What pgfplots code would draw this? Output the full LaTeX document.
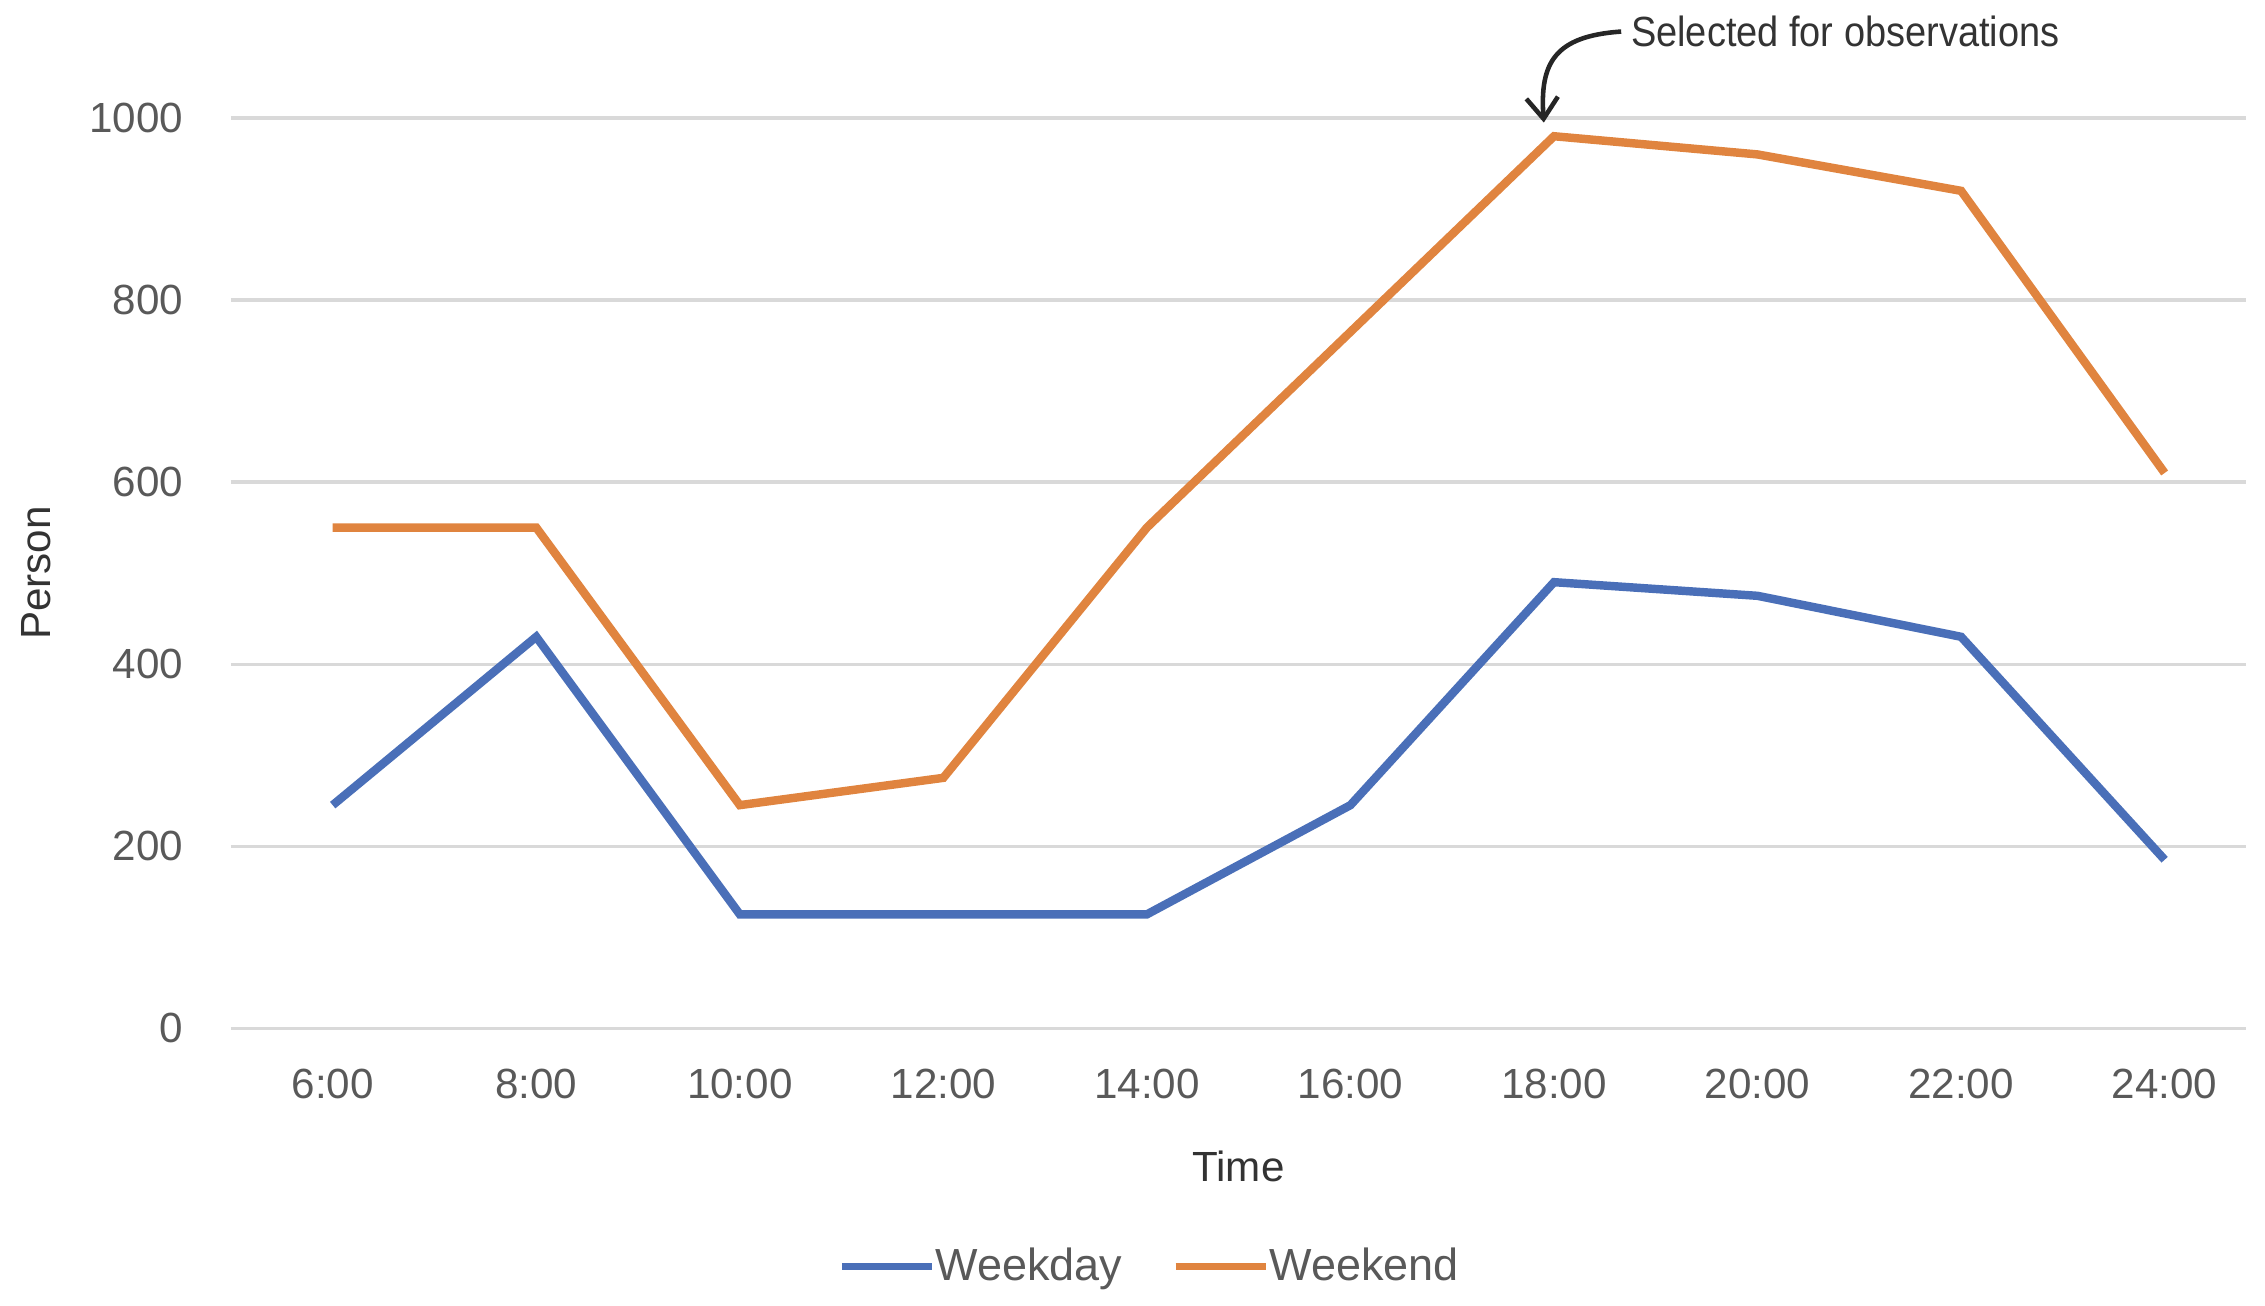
\documentclass[border=0pt]{standalone}
\usepackage{pgfplots}
\pgfplotsset{compat=1.18}
\usetikzlibrary{arrows.meta}
\usepackage{fontspec}
\setmainfont{Liberation Sans}
\definecolor{wdblue}{HTML}{4A6FB8}
\definecolor{weorange}{HTML}{E0843F}
\definecolor{txtgray}{HTML}{595959}
\definecolor{gridgray}{HTML}{D9D9D9}
\begin{document}
\begin{tikzpicture}
\begin{axis}[
  scale only axis,
  width=20.15cm, height=9.1cm,
  xmin=-0.5, xmax=9.4,
  ymin=0, ymax=1000,
  clip=false,
  axis line style={draw=none},
  ytick={0,200,...,1000},
  xtick={0,...,9},
  xticklabels={6:00,8:00,10:00,12:00,14:00,16:00,18:00,20:00,22:00,24:00},
  major tick length=0pt,
  ymajorgrids,
  grid style={gridgray, line width=0.9pt},
  tick label style={font=\fontsize{12}{14}\selectfont, text=txtgray},
  /pgf/number format/assume math mode=true,
  /pgf/number format/1000 sep={},
  yticklabel style={xshift=-10pt},
  xticklabel style={yshift=-8pt},
  xlabel={Time},
  ylabel={Person},
  label style={font=\fontsize{12}{14}\selectfont, text=black!80},
  xlabel style={yshift=-8pt},
  ylabel style={yshift=4pt},
  legend style={draw=none, at={(0.457,-0.262)}, anchor=center,
    font=\fontsize{12.8}{14}\selectfont, text=txtgray, legend columns=2,
    /tikz/every even column/.append style={column sep=12pt},
    /tikz/every odd column/.append style={column sep=-2pt}},
  legend image code/.code={\draw[#1, line width=2.2pt] (0cm,0cm) -- (0.9cm,0cm);},
]
\addplot[wdblue, line width=2.4pt] coordinates {
  (0,245) (1,430) (2,125) (3,125) (4,125) (5,245) (6,490) (7,475) (8,430) (9,185)};
\addlegendentry{Weekday}
\addplot[weorange, line width=2.4pt] coordinates {
  (0,550) (1,550) (2,245) (3,275) (4,550) (5,765) (6,980) (7,960) (8,920) (9,610)};
\addlegendentry{Weekend}
\coordinate (bl) at (axis description cs:-0.1146,-0.3044);
\coordinate (tr) at (axis description cs:1.0094,1.1297);
\draw[-{Straight Barb[length=6pt,width=9pt]}, line width=1.3pt, black!85]
  (axis cs:6.33,1095) .. controls (axis cs:6.0,1090) and (axis cs:5.93,1060) .. (axis cs:5.95,995);
\node[anchor=west, font=\fontsize{12}{14}\selectfont, text=black!80, xscale=0.9, inner sep=1pt]
  at (axis cs:6.36,1095) {Selected for observations};
\end{axis}
\pgfresetboundingbox
\path[use as bounding box] (bl) rectangle (tr);
\end{tikzpicture}
\end{document}
